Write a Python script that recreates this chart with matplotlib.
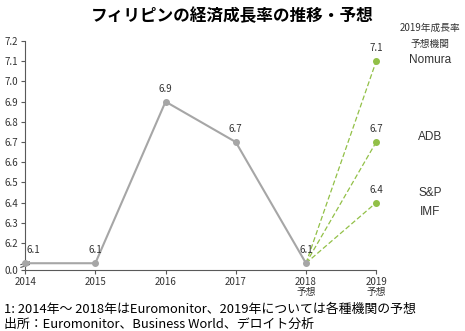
import matplotlib
matplotlib.use("Agg")
import matplotlib.pyplot as plt

plt.rcParams["font.family"] = ["Noto Sans CJK JP", "DejaVu Sans"]

# ── data ────────────────────────────────────────────────────────────────
years = [2014, 2015, 2016, 2017, 2018]
growth = [6.1, 6.1, 6.9, 6.7, 6.1]
forecast_orgs = ["Nomura", "ADB", "S&P", "IMF"]
forecast_2019 = [7.1, 6.7, 6.4]
xtick_labels = ["2014", "2015", "2016", "2017", "2018\n予想", "2019\n予想"]
ytick_vals = [6.2, 6.3, 6.4, 6.5, 6.6, 6.7, 6.8, 6.9, 7.0, 7.1, 7.2]
y_floor = 6.066   # where the broken axis puts "0.0"

GRAY = "#a6a6a6"
GREEN = "#92c047"
TXT = "#333333"

fig = plt.figure(figsize=(4.65, 3.31), dpi=100)
ax = fig.add_axes([0.054, 0.184, 0.755, 0.692])

ax.plot(years, growth, color=GRAY, lw=1.5, marker="o", ms=4, clip_on=False, zorder=3)
for v in forecast_2019:
    ax.plot([2018, 2019], [growth[-1], v], color=GREEN, lw=0.9, ls=(0, (4, 2)),
            zorder=2)
    ax.plot(2019, v, "o", color=GREEN, ms=4, clip_on=False, zorder=4)
    ax.text(2019, v + 0.04, f"{v:.1f}", ha="center", va="bottom", fontsize=7,
            color=TXT)

for i, (x, v) in enumerate(zip(years, growth)):
    dx = 0.12 if i == 0 else 0
    ax.text(x + dx, v + 0.04, f"{v:.1f}", ha="center", va="bottom", fontsize=7,
            color=TXT)

ax.set_xlim(2014, 2019)
ax.set_ylim(y_floor, 7.2)
ax.set_xticks(list(range(2014, 2020)))
ax.set_xticklabels(xtick_labels, fontsize=7, color=TXT, linespacing=1.05)
ax.set_yticks([y_floor] + ytick_vals)
ax.set_yticklabels(["0.0"] + [f"{v:.1f}" for v in ytick_vals], fontsize=7, color=TXT)
ax.tick_params(axis="both", length=3, width=0.8, color="#595959", pad=2)
for s in ["top", "right"]:
    ax.spines[s].set_visible(False)
for s in ["left", "bottom"]:
    ax.spines[s].set_color("#595959")
    ax.spines[s].set_linewidth(0.8)

# axis break marks
for dy in (0.012, 0.024):
    ax.plot([-0.012, 0.012], [dy, dy + 0.012], transform=ax.transAxes,
            color="#595959", lw=0.8, clip_on=False)

# right-hand labels of the forecasting organisations
fig.text(0.925, 0.915, "2019年成長率", ha="center", va="center", fontsize=7, color=TXT)
fig.text(0.925, 0.866, "予想機関", ha="center", va="center", fontsize=7, color=TXT)
org_y = [0.818, 0.587, 0.417, 0.360]
for name, yy in zip(forecast_orgs, org_y):
    fig.text(0.925, yy, name, ha="center", va="center", fontsize=8.5, color=TXT,
             family="Liberation Sans")

fig.text(0.5, 0.952, "フィリピンの経済成長率の推移・予想", ha="center", va="center",
         fontsize=12, fontweight="bold", color="black")
fig.text(0.008, 0.066, "1: 2014年～ 2018年はEuromonitor、2019年については各種機関の予想",
         ha="left", va="center", fontsize=9.3, color="black")
fig.text(0.008, 0.020, "出所：Euromonitor、Business World、デロイト分析",
         ha="left", va="center", fontsize=9.3, color="black")

fig.savefig("out.png", dpi=100)
